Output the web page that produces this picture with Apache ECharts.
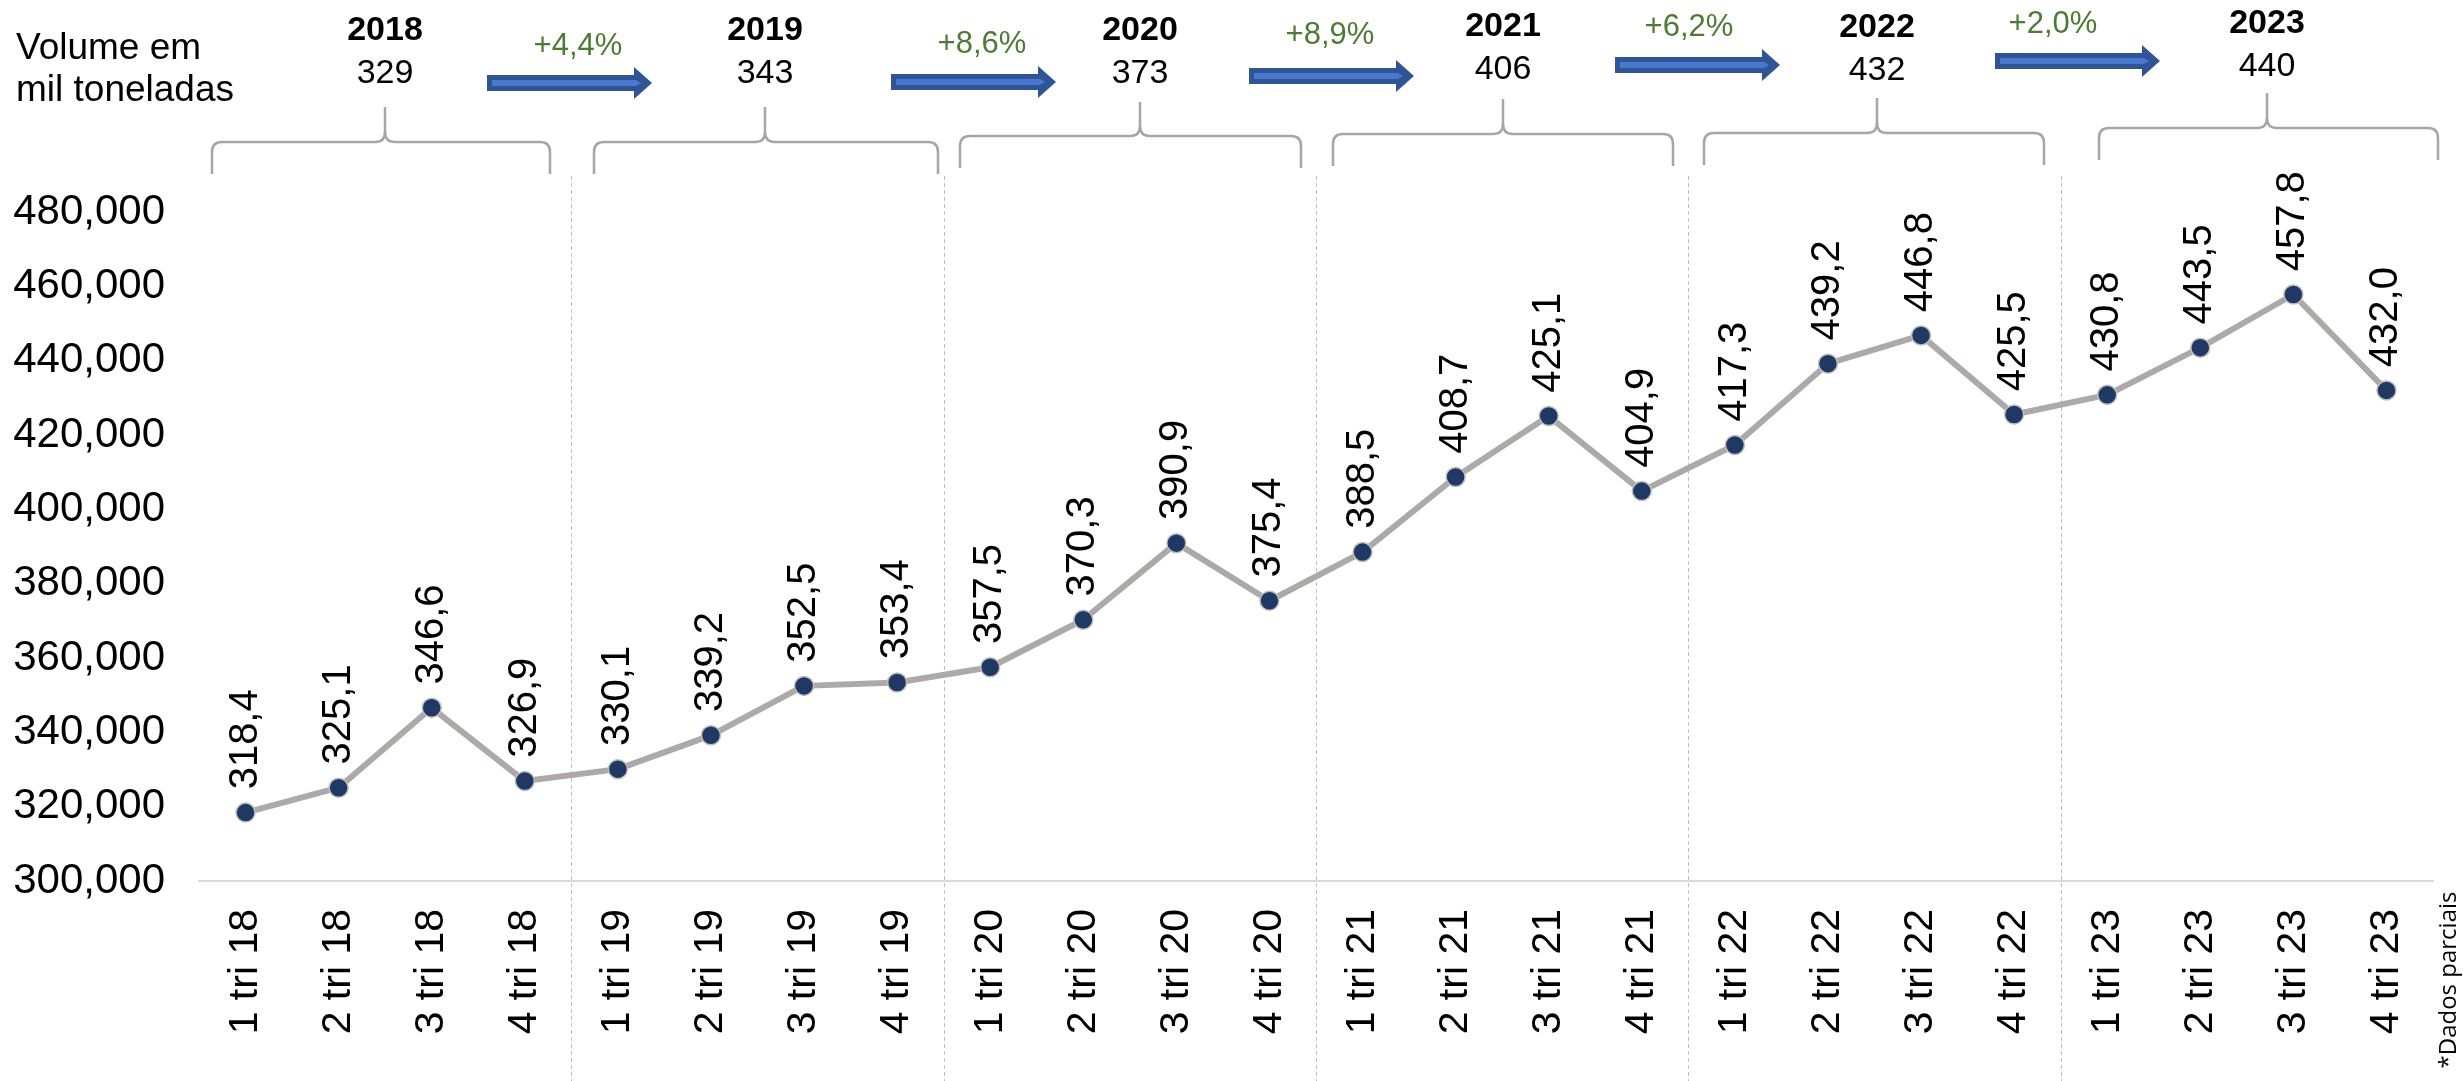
<!DOCTYPE html>
<html>
<head>
<meta charset="utf-8">
<script src="https://cdn.jsdelivr.net/npm/echarts@6/dist/echarts.min.js"></script>
<style>
html, body { margin: 0; padding: 0; background: #fff; }
#chart { width: 2463px; height: 1081px; }
</style>
</head>
<body>
<div id="chart"></div>
<script>
// dados (mil toneladas)
var categories = ['1 tri 18', '2 tri 18', '3 tri 18', '4 tri 18',
                  '1 tri 19', '2 tri 19', '3 tri 19', '4 tri 19',
                  '1 tri 20', '2 tri 20', '3 tri 20', '4 tri 20',
                  '1 tri 21', '2 tri 21', '3 tri 21', '4 tri 21',
                  '1 tri 22', '2 tri 22', '3 tri 22', '4 tri 22',
                  '1 tri 23', '2 tri 23', '3 tri 23', '4 tri 23'];
var volumes = [318.4, 325.1, 346.6, 326.9,
               330.1, 339.2, 352.5, 353.4,
               357.5, 370.3, 390.9, 375.4,
               388.5, 408.7, 425.1, 404.9,
               417.3, 439.2, 446.8, 425.5,
               430.8, 443.5, 457.8, 432.0];
var years = ['2018', '2019', '2020', '2021', '2022', '2023'];
var yearTotals = ['329', '343', '373', '406', '432', '440'];
var growth = ['+4,4%', '+8,6%', '+8,9%', '+6,2%', '+2,0%'];
var yMin = 300, yMax = 480, yStep = 20;

// posicoes do cabecalho (px)
var yearX = [385, 765, 1140, 1503, 1877, 2267];
var yearY = [31, 31, 31, 27, 28, 24];
var braceL = [212, 594, 960, 1333, 1704, 2099];
var braceR = [550, 938, 1301, 1673, 2044, 2438];
var braceTip = [107, 107, 102, 99, 98, 93];
var braceH = [142, 142, 136, 134, 133, 128];
var arrowX = [487, 891, 1249, 1615, 1995];
var arrowY = [83, 82, 76, 65, 61];
var growthX = [578, 982, 1330, 1689, 2053];
var growthY = [46, 44, 35, 27, 24];

var FONT = '"Liberation Sans", Arial, sans-serif';

var myChart = echarts.init(document.getElementById('chart'));

function fmtAxis(v) {
    return String(v * 1000).replace(/\B(?=(\d{3})+(?!\d))/g, ',');
}

var option = {
    backgroundColor: '#fff',
    animation: false,
    grid: {
        left: 199,
        right: 30,
        top: 212,
        bottom: 200
    },
    xAxis: {
        type: 'category',
        data: categories,
        boundaryGap: true,
        axisLine: { lineStyle: { color: '#D9D9D9', width: 2 } },
        axisTick: { show: false },
        axisLabel: {
            interval: 0,
            rotate: 90,
            margin: 28,
            fontSize: 41,
            color: '#000',
            fontFamily: FONT
        },
        splitLine: { show: false }
    },
    yAxis: {
        type: 'value',
        min: yMin,
        max: yMax,
        interval: yStep,
        axisLine: { show: false },
        axisTick: { show: false },
        splitLine: { show: false },
        axisLabel: {
            margin: 34,
            fontSize: 42,
            color: '#000',
            fontFamily: FONT,
            formatter: fmtAxis
        }
    },
    series: [
        {
            type: 'line',
            data: volumes,
            symbol: 'circle',
            symbolSize: 19,
            lineStyle: { color: '#ADA9A9', width: 6 },
            itemStyle: { color: '#1F3864', borderColor: '#BFBFBF', borderWidth: 1.5 },
            label: {
                show: true,
                position: 'top',
                rotate: 90,
                align: 'left',
                verticalAlign: 'middle',
                distance: 13,
                fontSize: 40,
                color: '#000',
                fontFamily: FONT,
                formatter: function (p) {
                    return p.value.toFixed(1).replace('.', ',');
                }
            },
            z: 3
        }
    ]
};

myChart.setOption(option);

// elementos graficos: separadores, chaves, setas, textos
var g = [];

// separadores verticais entre os anos
var p0 = myChart.convertToPixel({ xAxisIndex: 0 }, categories[0]);
var p1 = myChart.convertToPixel({ xAxisIndex: 0 }, categories[1]);
var cw = p1 - p0;
for (var i = 4; i < categories.length; i += 4) {
    var sx = Math.round(myChart.convertToPixel({ xAxisIndex: 0 }, categories[i]) - cw / 2) + 0.5;
    g.push({
        type: 'line',
        shape: { x1: sx, y1: 176, x2: sx, y2: 1081 },
        style: { stroke: '#BFBFBF', lineWidth: 1, lineDash: [4, 3] },
        z: 1
    });
}

g.push({
    type: 'text', x: 16, y: 49,
    style: { text: 'Volume em', fontSize: 37, fontFamily: FONT, fill: '#000', align: 'left', verticalAlign: 'middle' }
});
g.push({
    type: 'text', x: 16, y: 91,
    style: { text: 'mil toneladas', fontSize: 37, fontFamily: FONT, fill: '#000', align: 'left', verticalAlign: 'middle' }
});

var braceStyle = { fill: null, stroke: '#A6A6A6', lineWidth: 2.5 };
function seg(x1, y1, x2, y2) {
    g.push({ type: 'line', shape: { x1: x1, y1: y1, x2: x2, y2: y2 }, style: braceStyle });
}
function curve(x1, y1, cx, cy, x2, y2) {
    g.push({ type: 'bezierCurve', shape: { x1: x1, y1: y1, cpx1: cx, cpy1: cy, x2: x2, y2: y2 }, style: braceStyle });
}
function brace(x1, x2, xt, yT, yH, yE) {
    var r = 10;
    seg(x1, yE, x1, yH + r);
    curve(x1, yH + r, x1, yH, x1 + r, yH);
    seg(x1 + r, yH, xt - r, yH);
    curve(xt - r, yH, xt, yH, xt, yH - r);
    seg(xt, yH - r, xt, yT);
    curve(xt, yH - r, xt, yH, xt + r, yH);
    seg(xt + r, yH, x2 - r, yH);
    curve(x2 - r, yH, x2, yH, x2, yH + r);
    seg(x2, yH + r, x2, yE);
}

for (var k = 0; k < years.length; k++) {
    g.push({
        type: 'text', x: yearX[k], y: yearY[k],
        style: { text: years[k], fontSize: 34, fontWeight: 'bold', fontFamily: FONT, fill: '#000', align: 'center', verticalAlign: 'middle' }
    });
    g.push({
        type: 'text', x: yearX[k], y: yearY[k] + 43,
        style: { text: yearTotals[k], fontSize: 34, fontFamily: FONT, fill: '#000', align: 'center', verticalAlign: 'middle' }
    });
    brace(braceL[k], braceR[k], yearX[k], braceTip[k], braceH[k], braceH[k] + 32);
}

for (var a = 0; a < growth.length; a++) {
    var x0 = arrowX[a], x1 = x0 + 165, xh = x1 - 18, cy = arrowY[a];
    g.push({
        type: 'polygon',
        shape: { points: [[x0, cy - 8], [xh, cy - 8], [xh, cy - 16], [x1, cy], [xh, cy + 16], [xh, cy + 8], [x0, cy + 8]] },
        style: { fill: '#2F5597' }
    });
    g.push({
        type: 'polygon',
        shape: { points: [[x0 + 5, cy - 3], [xh + 2, cy - 3], [xh + 7, cy], [xh + 2, cy + 3], [x0 + 5, cy + 3]] },
        style: { fill: '#4A78CC' }
    });
    g.push({
        type: 'text', x: growthX[a], y: growthY[a],
        style: { text: growth[a], fontSize: 31, fontFamily: FONT, fill: '#4E7A34', align: 'center', verticalAlign: 'middle' }
    });
}

g.push({
    type: 'text', x: 2449, y: 980, rotation: Math.PI / 2,
    style: { text: '*Dados parciais', fontSize: 24, fontFamily: '"Open Sans", "Noto Sans", sans-serif', fill: '#000', align: 'center', verticalAlign: 'middle' }
});

myChart.setOption({ graphic: { elements: g } });
</script>
</body>
</html>
